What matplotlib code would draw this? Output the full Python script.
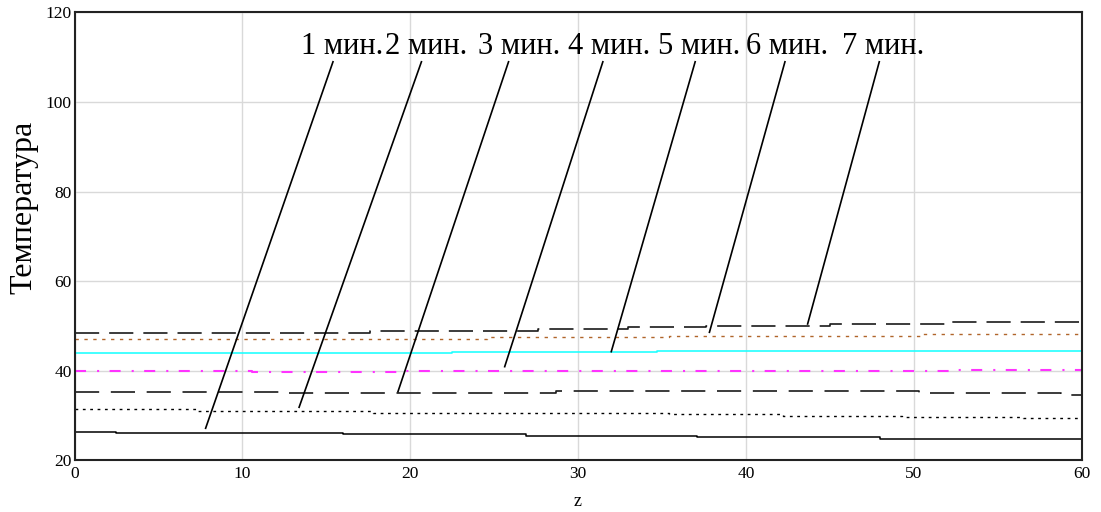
import matplotlib.pyplot as plt
import numpy as np

plt.rcParams['font.family'] = ['Liberation Serif', 'DejaVu Serif']

# температурные профили по z для каждого момента времени (ступенчатые)
z1 = [0, 2.5, 16.0, 26.9, 37.1, 48.0, 60]
t1 = [26.37, 26.15, 25.85, 25.5, 25.25, 24.9, 24.9]

z2 = [0, 7.35, 17.8, 35.4, 42.2, 49.3, 56.5, 60]
t2 = [31.4, 31.0, 30.65, 30.35, 30.0, 29.7, 29.4, 29.4]

z3 = [0, 12.4, 28.7, 50.3, 58.8, 60]
t3 = [35.4, 35.1, 35.6, 35.1, 34.6, 34.6]

z4 = [0, 10.6, 19.55, 52.1, 60]
t4 = [40.0, 39.7, 40.0, 40.3, 40.3]

z5 = [0, 22.5, 34.7, 60]
t5 = [43.9, 44.25, 44.5, 44.5]

z6 = [0, 24.55, 35.4, 50.4, 60]
t6 = [47.15, 47.5, 47.9, 48.2, 48.2]

z7 = [0, 17.6, 27.6, 33.0, 37.6, 45.0, 52.1, 60]
t7 = [48.4, 48.8, 49.45, 49.8, 50.1, 50.4, 50.9, 50.9]

labels = ['1 мин.', '2 мин.', '3 мин.', '4 мин.', '5 мин.', '6 мин.', '7 мин.']
label_z = [13.52, 18.48, 24.02, 29.38, 34.79, 40.03, 45.74]
label_t = 110.67

# выноски: верхняя и нижняя точки
lead_top_z = [15.40, 20.67, 25.86, 31.48, 36.98, 42.33, 47.95]
lead_top_t = 109.0
lead_bot_z = [7.81, 13.38, 19.27, 25.63, 31.98, 37.83, 43.68]
lead_bot_t = [27.19, 31.88, 35.36, 40.94, 44.29, 48.62, 50.47]

xticks = [0, 10, 20, 30, 40, 50, 60]
yticks = [20, 40, 60, 80, 100, 120]


fig = plt.figure(figsize=(11.01, 5.12), dpi=100)
ax = fig.add_axes([0.0677, 0.1006, 0.9146, 0.8750])

ax.plot(z1, t1, drawstyle='steps-post', color='black', lw=1.1)
ax.plot(z2, t2, drawstyle='steps-post', color='black', lw=1.0, linestyle=(0, (2, 3.3)))
ax.plot(z3, t3, drawstyle='steps-post', color='#1a1a1a', lw=1.2, linestyle=(0, (14.5, 7)))
ax.plot(z4, t4, drawstyle='steps-post', color='#ff33ff', lw=1.5, linestyle=(0, (5.3, 5.3, 1, 5)))
ax.plot(z5, t5, drawstyle='steps-post', color='#22ffff', lw=1.2)
ax.plot(z6, t6, drawstyle='steps-post', color='#b0652a', lw=1.0, linestyle=(0, (2.4, 4)))
ax.plot(z7, t7, drawstyle='steps-post', color='#1a1a1a', lw=1.2, linestyle=(0, (14.5, 6)))

for i in range(len(labels)):
	ax.plot([lead_bot_z[i], lead_top_z[i]], [lead_bot_t[i], lead_top_t], color='black', lw=1.2)
	ax.text(label_z[i], label_t, labels[i], fontsize=22, ha='left', va='baseline')

ax.set_xlim(0, 60)
ax.set_ylim(20, 120)
ax.set_xticks(xticks)
ax.set_yticks(yticks)
ax.grid(True, color='#d9d9d9', lw=1.0)
ax.set_axisbelow(True)
ax.tick_params(length=0, labelsize=12.5)
ax.tick_params(axis='x', pad=4)
ax.tick_params(axis='y', pad=2)
for s in ax.spines.values():
	s.set_linewidth(1.5)
	s.set_color('#222222')

ax.set_xlabel('z', fontsize=13, labelpad=8)
fig.text(0.022, 1 - 207.5 / 512, 'Температура', fontsize=23, rotation=90, ha='center', va='center')

plt.savefig('out.png', dpi=100)
